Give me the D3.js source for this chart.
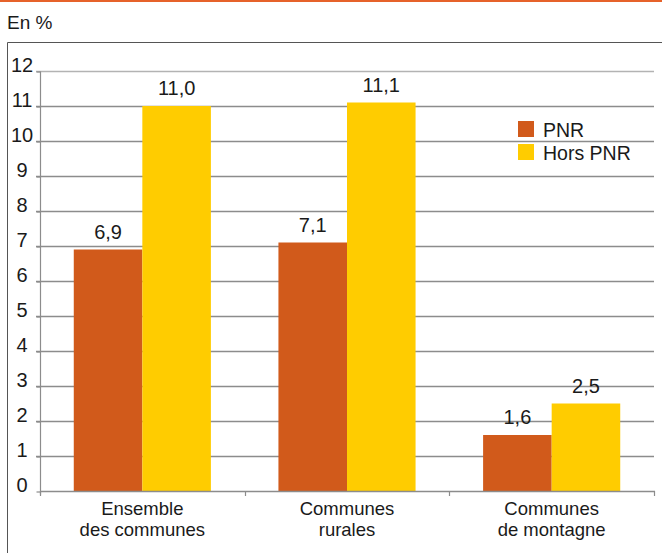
<!DOCTYPE html>
<html>
<head>
<meta charset="utf-8">
<script src="https://cdn.jsdelivr.net/npm/d3@7"></script>
<style>
  html, body { margin: 0; padding: 0; background: #fff; }
  svg { display: block; font-family: "Liberation Sans", Arial, sans-serif; }
</style>
</head>
<body>
<svg id="chart" width="662" height="553"></svg>
<script>
// Share of population, in %, by type of commune
const categories = [["Ensemble", "des communes"], ["Communes", "rurales"], ["Communes", "de montagne"]];
const seriesNames = ["PNR", "Hors PNR"];
const pnrValues = [6.9, 7.1, 1.6];
const horsPnrValues = [11.0, 11.1, 2.5];
const yTicks = [0, 1, 2, 3, 4, 5, 6, 7, 8, 9, 10, 11, 12];
const colors = ["#d15a1b", "#ffcc00"];

const svg = d3.select("#chart");
const W = 662, H = 553;
const plotLeft = 40, plotRight = 654, plotTop = 71, plotBottom = 491;

// Top rule and frame
svg.append("rect").attr("x", 0).attr("y", 0).attr("width", W).attr("height", 2).attr("fill", "#e6622a");
svg.append("text").attr("x", 7).attr("y", 29).attr("font-size", 19).attr("fill", "#1a1a1a").text("En %");
svg.append("path")
  .attr("d", `M7.5,${H + 2} V42.5 H${W + 2}`)
  .attr("fill", "none").attr("stroke", "#555").attr("stroke-width", 1);

const x0 = d3.scaleBand().domain(d3.range(categories.length)).range([plotLeft, plotRight])
  .paddingInner(0.33).paddingOuter(0.165);
const x1 = d3.scaleBand().domain(d3.range(seriesNames.length)).range([0, x0.bandwidth()]);
const y = d3.scaleLinear().domain([0, 12]).range([plotBottom, plotTop]);

// Horizontal gridlines
svg.append("g").selectAll("line").data(yTicks.filter(d => d > 0)).join("line")
  .attr("x1", plotLeft - 4).attr("x2", plotRight)
  .attr("y1", d => y(d) + 0.5).attr("y2", d => y(d) + 0.5)
  .attr("stroke", d => d === 12 ? "#b3b3b3" : "#8c8c8c").attr("stroke-width", 1.3);

// Y axis
const yAxis = svg.append("g").attr("transform", `translate(${plotLeft + 0.5},0.5)`)
  .call(d3.axisLeft(y).tickValues(yTicks).tickSize(4).tickFormat(d3.format("d")));
yAxis.select(".domain").attr("stroke", "#8c8c8c").attr("stroke-width", 1.2).attr("d", `M0,${plotTop}V${plotBottom + 3}`);
yAxis.selectAll(".tick line").attr("stroke", "#8c8c8c").attr("stroke-width", 1.2);
yAxis.selectAll(".tick text")
  .attr("x", -18.5).attr("dy", 0).attr("y", 0)
  .attr("text-anchor", "middle").attr("font-size", 20).attr("fill", "#1a1a1a")
  .attr("font-family", "Liberation Sans, Arial, sans-serif");

// Bars
const data = categories.map((c, i) => ({ i, values: [pnrValues[i], horsPnrValues[i]] }));
const groups = svg.append("g").selectAll("g").data(data).join("g")
  .attr("transform", d => `translate(${x0(d.i)},0)`);
groups.selectAll("rect").data(d => d.values).join("rect")
  .attr("x", (v, j) => x1(j)).attr("width", x1.bandwidth())
  .attr("y", v => y(v)).attr("height", v => plotBottom - y(v))
  .attr("fill", (v, j) => colors[j]);
groups.selectAll("text.val").data(d => d.values).join("text")
  .attr("class", "val")
  .attr("x", (v, j) => x1(j) + x1.bandwidth() / 2)
  .attr("y", v => y(v) - 11)
  .attr("text-anchor", "middle").attr("font-size", 20).attr("fill", "#1a1a1a")
  .text(v => d3.format(".1f")(v).replace(".", ","));

// X axis baseline and boundary ticks
const xAxis = svg.append("g");
xAxis.append("line").attr("x1", plotLeft).attr("x2", plotRight + 1)
  .attr("y1", plotBottom + 0.5).attr("y2", plotBottom + 0.5).attr("stroke", "#8c8c8c").attr("stroke-width", 1.3);
const bounds = [plotLeft].concat(d3.range(categories.length).map(i => x0(i) + x0.bandwidth() + x0.step() * 0.165));
xAxis.selectAll("line.tk").data(bounds).join("line").attr("class", "tk")
  .attr("x1", d => Math.round(d) + 0.5).attr("x2", d => Math.round(d) + 0.5)
  .attr("y1", plotBottom).attr("y2", plotBottom + 5).attr("stroke", "#8c8c8c").attr("stroke-width", 1.2);
// Two-line category labels, one text element per line
xAxis.selectAll("g.cat").data(data).join("g").attr("class", "cat")
  .each(function (d) {
    d3.select(this).selectAll("text").data(categories[d.i]).join("text")
      .attr("x", x0(d.i) + x0.bandwidth() / 2)
      .attr("y", (t, k) => 515 + k * 21)
      .attr("text-anchor", "middle").attr("font-size", 18.5).attr("fill", "#1a1a1a")
      .text(t => t);
  });

// Legend
const legend = svg.append("g").attr("transform", "translate(518,121)");
seriesNames.forEach((name, j) => {
  const g = legend.append("g").attr("transform", `translate(0,${j * 23})`);
  g.append("rect").attr("width", 16).attr("height", 16).attr("fill", colors[j]);
  g.append("text").attr("x", 25).attr("y", 16).attr("font-size", 19.5).attr("fill", "#1a1a1a").text(name);
});
</script>
</body>
</html>
